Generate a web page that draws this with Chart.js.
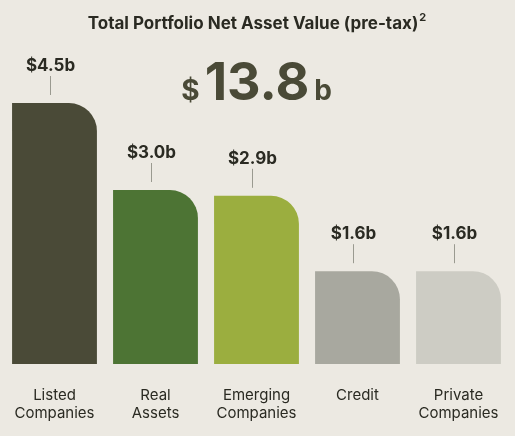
<!DOCTYPE html>
<html><head><meta charset="utf-8">
<script src="https://cdn.jsdelivr.net/npm/chart.js@4"></script>
<style>
html,body{margin:0;padding:0;background:#ECE9E2;}
#wrap{width:515px;height:436px;}
</style></head>
<body><div id="wrap"><canvas id="c" width="515" height="436"></canvas></div>
<script>
// data
const categories = [['Listed', 'Companies'], ['Real', 'Assets'], ['Emerging', 'Companies'], 'Credit', ['Private', 'Companies']];
const values = [4.5, 3.0, 2.9, 1.6, 1.6];
const valueLabels = ['$4.5b', '$3.0b', '$2.9b', '$1.6b', '$1.6b'];
const colors = ['#4A4A37', '#4D7434', '#9BAE3F', '#A8A89F', '#CDCCC4'];
const titleText = 'Total Portfolio Net Asset Value (pre-tax)';
const totalText = '13.8';

const ink = '#2A2A22';
const font = 'Inter, "Open Sans", sans-serif';

// title, total and value labels over the bars
const extras = {
  id: 'extras',
  afterDraw(chart) {
    const ctx = chart.ctx;
    ctx.save();
    ctx.fillStyle = ink;
    ctx.textBaseline = 'alphabetic';
    ctx.font = 'bold 17px ' + font;
    const tw = ctx.measureText(titleText).width;
    const tx = 257 - tw / 2 - 4;
    ctx.textAlign = 'left';
    ctx.fillText(titleText, tx, 29);
    ctx.font = 'bold 11px ' + font;
    ctx.fillText('2', tx + tw + 1, 21);

    // big total
    ctx.font = 'bold 52px ' + font;
    const nw = ctx.measureText(totalText).width;
    const nx = 257 - nw / 2;
    ctx.fillStyle = '#4A4A37';
    ctx.fillText(totalText, nx, 100);
    ctx.font = 'bold 28px ' + font;
    ctx.textAlign = 'right';
    ctx.fillText('$', nx - 5, 100);
    ctx.textAlign = 'left';
    ctx.fillText('b', nx + nw + 5, 100);

    // value labels with a small tick line
    const meta = chart.getDatasetMeta(0);
    ctx.fillStyle = ink;
    ctx.strokeStyle = '#9A9A90';
    ctx.lineWidth = 1;
    ctx.textAlign = 'center';
    ctx.font = 'bold 17px ' + font;
    meta.data.forEach((bar, i) => {
      const x = Math.round(bar.x) - 4.5;
      ctx.beginPath();
      ctx.moveTo(x, bar.y - 8);
      ctx.lineTo(x, bar.y - 27);
      ctx.stroke();
      ctx.fillText(valueLabels[i], bar.x - 4, bar.y - 32);
    });
    ctx.restore();
  }
};

new Chart(document.getElementById('c'), {
  type: 'bar',
  data: {
    labels: categories,
    datasets: [{
      data: values,
      backgroundColor: colors,
      borderRadius: { topLeft: 0, topRight: 28, bottomLeft: 0, bottomRight: 0 },
      borderSkipped: false,
      categoryPercentage: 1,
      barPercentage: 0.84
    }]
  },
  options: {
    responsive: false,
    animation: false,
    layout: { padding: { left: 4, right: 6, top: 103, bottom: 0 } },
    plugins: { legend: { display: false }, tooltip: { enabled: false } },
    scales: {
      x: {
        grid: { display: false },
        border: { display: false },
        ticks: { color: ink, font: { family: font, size: 15 }, padding: 14, maxRotation: 0 }
      },
      y: {
        display: false,
        min: 0,
        max: 4.5
      }
    }
  },
  plugins: [extras]
});
</script>
</body></html>
